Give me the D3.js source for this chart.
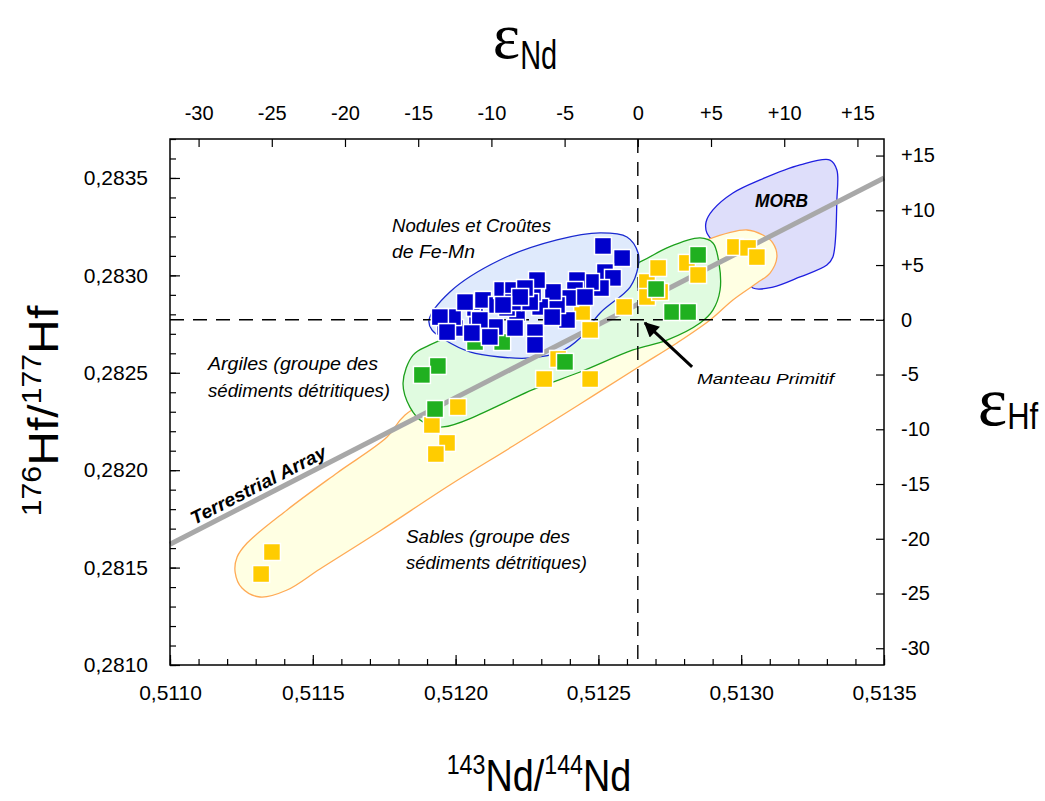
<!DOCTYPE html>
<html><head><meta charset="utf-8">
<script src="https://cdn.jsdelivr.net/npm/d3@7"></script>
<style>
body{margin:0;background:#fff;}
svg{display:block;font-family:"Liberation Sans",Arial,sans-serif;}
</style>
</head><body>
<svg id="c" width="1045" height="801"></svg>
<script>
// ---------- data ----------
const xDomain = [0.5110, 0.5135];
const yDomain = [0.2810, 0.2837];
const xTicks = [0.5110, 0.5115, 0.5120, 0.5125, 0.5130, 0.5135];
const yTicks = [0.2810, 0.2815, 0.2820, 0.2825, 0.2830, 0.2835];
const epsNdTicks = [-30, -25, -20, -15, -10, -5, 0, 5, 10, 15];
const epsHfTicks = [-30, -25, -20, -15, -10, -5, 0, 5, 10, 15];
const ND_CHUR = 0.512638;
const HF_CHUR = 0.282772;
const HF_PER_EPS_AXIS = 0.0000562; // as drawn on the original right axis

const terrestrialArray = [[0.5110, 0.28162], [0.5135, 0.28350]];

const sablesPts = [ // yellow
  [0.511319,0.281467],[0.511357,0.281580],[0.512008,0.282324],[0.511917,0.282232],
  [0.511970,0.282140],[0.511931,0.282083],[0.512310,0.282468],[0.512471,0.282468],
  [0.512359,0.282571],[0.512443,0.282812],[0.512471,0.282720],[0.512590,0.282838],
  [0.512670,0.282966],[0.512670,0.282889],[0.512716,0.282915],[0.512709,0.283038],
  [0.512810,0.283064],[0.512849,0.283002],[0.512978,0.283146],[0.513024,0.283141],
  [0.513055,0.283094]
];
const argilesPts = [ // green
  [0.512702,0.282930],[0.512849,0.283105],[0.512758,0.282812],[0.512814,0.282812],
  [0.511938,0.282535],[0.511882,0.282489],[0.511928,0.282314],[0.512383,0.282556],
  [0.512068,0.282658],[0.512163,0.282658]
];
const nodulesPts = [ // blue
  [0.512516,0.283151],[0.512583,0.283089],[0.512523,0.283017],[0.512551,0.282987],
  [0.512509,0.282935],[0.512474,0.282966],[0.512425,0.282976],[0.512418,0.282925],
  [0.512401,0.282884],[0.512390,0.282771],[0.512355,0.282848],[0.512341,0.282915],
  [0.512296,0.282838],[0.512271,0.282910],[0.512285,0.282976],[0.512236,0.282899],
  [0.512215,0.282807],[0.512208,0.282730],[0.512278,0.282709],[0.512278,0.282643],
  [0.512138,0.282735],[0.512075,0.282745],[0.511998,0.282730],[0.511963,0.282735],
  [0.511991,0.282786],[0.512068,0.282833],[0.512057,0.282863],[0.512096,0.282874],
  [0.512145,0.282848],[0.512163,0.282925],[0.512201,0.282925],[0.512180,0.282833],
  [0.512201,0.282863],[0.512261,0.282863],[0.512338,0.282786],[0.512085,0.282771],
  [0.511945,0.282786],[0.512033,0.282863],[0.512120,0.282684],[0.512057,0.282704],
  [0.512243,0.282935],[0.512453,0.282889],[0.511970,0.282709],[0.512226,0.282889],
  [0.512166,0.282848]
];

const morbField = [
  [0.512880,0.283218],[0.512877,0.283274],[0.512901,0.283336],[0.512971,0.283423],
  [0.513066,0.283490],[0.513206,0.283567],[0.513311,0.283592],[0.513335,0.283541],
  [0.513335,0.283387],[0.513321,0.283094],[0.513300,0.283053],[0.513206,0.282992],
  [0.513111,0.282940],[0.513041,0.282935],[0.512996,0.283028]
];
const sablesField = [
  [0.511235,0.281554],[0.511270,0.281626],[0.511410,0.281796],[0.511585,0.281986],
  [0.511760,0.282170],[0.511823,0.282283],[0.512155,0.282571],[0.512506,0.282874],
  [0.512751,0.283089],[0.512880,0.283182],[0.513020,0.283233],[0.513076,0.283207],
  [0.513111,0.283166],[0.513125,0.283094],[0.513101,0.283012],[0.513055,0.282961],
  [0.512971,0.282874],[0.512891,0.282771],[0.512775,0.282653],[0.512646,0.282535],
  [0.512436,0.282340],[0.512201,0.282124],[0.511980,0.281924],[0.511735,0.281688],
  [0.511525,0.281493],[0.511410,0.281385],[0.511315,0.281349],[0.511252,0.281395],
  [0.511228,0.281477]
];
const argilesField = [
  [0.511851,0.282591],[0.511910,0.282643],[0.512278,0.282858],[0.512646,0.283069],
  [0.512740,0.283141],[0.512856,0.283192],[0.512901,0.283166],[0.512922,0.283064],
  [0.512926,0.282925],[0.512901,0.282822],[0.512856,0.282756],[0.512740,0.282668],
  [0.512621,0.282617],[0.512436,0.282504],[0.512285,0.282422],[0.511956,0.282222],
  [0.511886,0.282247],[0.511840,0.282324],[0.511816,0.282448]
];
const nodulesField = [
  [0.511907,0.282771],[0.511980,0.282915],[0.512155,0.283079],[0.512355,0.283182],
  [0.512506,0.283218],[0.512600,0.283197],[0.512639,0.283115],[0.512639,0.283043],
  [0.512611,0.282940],[0.512506,0.282807],[0.512436,0.282679],[0.512366,0.282607],
  [0.512261,0.282576],[0.512155,0.282581],[0.512050,0.282607],[0.511963,0.282668],
  [0.511917,0.282720]
];
const primitiveArrow = [[0.512828,0.282530],[0.512663,0.282756]];

// ---------- chart ----------
const svg = d3.select('#c');
const x = d3.scaleLinear().domain(xDomain).range([170, 884]);
const y = d3.scaleLinear().domain(yDomain).range([665, 139]);
const xEps = d3.scaleLinear().domain(xDomain.map(v => (v / ND_CHUR - 1) * 1e4)).range(x.range());
const yEps = d3.scaleLinear().domain(yDomain.map(v => (v - HF_CHUR) / HF_PER_EPS_AXIS)).range(y.range());
const [x0, x1] = x.range(), [y0, y1] = y.range();

const area = d3.line().x(d => x(d[0])).y(d => y(d[1])).curve(d3.curveCatmullRomClosed.alpha(0.5));

function field(data, fill, stroke) {
  svg.append('path').attr('d', area(data)).attr('fill', fill).attr('stroke', stroke).attr('stroke-width', 1.3);
}
field(morbField, '#dedefa', '#1f1fe0');
field(sablesField, '#ffffe3', '#ffaa55');
field(argilesField, '#e0fbe0', '#1ca01c');
field(nodulesField, '#dfeafc', '#1a2ad0');

// terrestrial array
svg.append('line')
  .attr('x1', x(terrestrialArray[0][0])).attr('y1', y(terrestrialArray[0][1]))
  .attr('x2', x(terrestrialArray[1][0])).attr('y2', y(terrestrialArray[1][1]))
  .attr('stroke', '#a8a8a8').attr('stroke-width', 5);

// CHUR dashed lines
svg.append('line').attr('x1', x(ND_CHUR)).attr('x2', x(ND_CHUR)).attr('y1', y1).attr('y2', y0)
  .attr('stroke', '#000').attr('stroke-width', 1.4).attr('stroke-dasharray', '14,9');
svg.append('line').attr('x1', x0).attr('x2', x1).attr('y1', y(HF_CHUR)).attr('y2', y(HF_CHUR))
  .attr('stroke', '#000').attr('stroke-width', 1.4).attr('stroke-dasharray', '14,9');

// points
const S = 17;
function pts(data, color) {
  svg.append('g').selectAll('rect').data(data).join('rect')
    .attr('x', d => x(d[0]) - S / 2).attr('y', d => y(d[1]) - S / 2)
    .attr('width', S).attr('height', S)
    .attr('fill', color).attr('stroke', '#fff').attr('stroke-width', 1.5);
}
pts(sablesPts, '#ffcc00');
pts(argilesPts, '#20b020');
pts(nodulesPts, '#0000cc');

// arrow
svg.append('defs').append('marker').attr('id', 'ah').attr('viewBox', '0 0 10 10')
  .attr('refX', 9).attr('refY', 5).attr('markerWidth', 5.5).attr('markerHeight', 5)
  .attr('orient', 'auto').attr('markerUnits', 'strokeWidth')
  .append('path').attr('d', 'M0,0 L10,5 L0,10 z').attr('fill', '#000');
svg.append('line')
  .attr('x1', x(primitiveArrow[0][0])).attr('y1', y(primitiveArrow[0][1]))
  .attr('x2', x(primitiveArrow[1][0])).attr('y2', y(primitiveArrow[1][1]))
  .attr('stroke', '#000').attr('stroke-width', 3).attr('marker-end', 'url(#ah)');

// frame
svg.append('rect').attr('x', x0).attr('y', y1).attr('width', x1 - x0).attr('height', y0 - y1)
  .attr('fill', 'none').attr('stroke', '#000').attr('stroke-width', 1.5);

// axes
const minorX = d3.range(0, 26).map(i => xDomain[0] + i * 0.0001);
const minorY = d3.range(0, 28).map(i => yDomain[0] + i * 0.0001);
function styleAxis(g, fs) {
  g.select('.domain').remove();
  g.selectAll('line').attr('stroke', '#000').attr('stroke-width', 1.2);
  g.selectAll('text').attr('font-size', fs).attr('fill', '#000')
    .attr('font-family', '"Liberation Sans", Arial, sans-serif');
}
const comma = d => d.toFixed(4).replace('.', ',');
const signed = d => d > 0 ? '+' + d : String(d);

svg.append('g').attr('transform', `translate(0,${y0})`)
  .call(d3.axisBottom(x).tickValues(minorX).tickSize(-6).tickSizeOuter(0).tickFormat(''))
  .call(g => styleAxis(g, 18));
svg.append('g').attr('transform', `translate(0,${y0})`)
  .call(d3.axisBottom(x).tickValues(xTicks).tickSize(-10).tickSizeOuter(0).tickPadding(20).tickFormat(comma))
  .call(g => styleAxis(g, 21));
svg.append('g').attr('transform', `translate(${x0},0)`)
  .call(d3.axisLeft(y).tickValues(minorY).tickSize(-6).tickSizeOuter(0).tickFormat(''))
  .call(g => styleAxis(g, 18));
svg.append('g').attr('transform', `translate(${x0},0)`)
  .call(d3.axisLeft(y).tickValues(yTicks).tickSize(-10).tickSizeOuter(0).tickPadding(22).tickFormat(comma))
  .call(g => styleAxis(g, 21));
svg.append('g').attr('transform', `translate(0,${y1})`)
  .call(d3.axisTop(xEps).tickValues(epsNdTicks).tickSize(-8).tickSizeOuter(0).tickPadding(19).tickFormat(signed))
  .call(g => styleAxis(g, 20));
svg.append('g').attr('transform', `translate(${x1},0)`)
  .call(d3.axisRight(yEps).tickValues(epsHfTicks).tickSize(-8).tickSizeOuter(0).tickPadding(17).tickFormat(signed))
  .call(g => styleAxis(g, 20));

// titles
const topTitle = svg.append('text').attr('x', 525).attr('y', 58).attr('text-anchor', 'middle');
topTitle.append('tspan').attr('font-family', '"Liberation Serif", "DejaVu Serif", serif').attr('font-size', 65).text('ε');
topTitle.append('tspan').attr('font-size', 40).attr('dy', 11).attr('textLength', 37).attr('lengthAdjust', 'spacingAndGlyphs').text('Nd');

const rightTitle = svg.append('text').attr('x', 1008).attr('y', 425).attr('text-anchor', 'middle');
rightTitle.append('tspan').attr('font-family', '"Liberation Serif", "DejaVu Serif", serif').attr('font-size', 70).text('ε');
rightTitle.append('tspan').attr('font-size', 36).attr('dy', 4).attr('textLength', 31).attr('lengthAdjust', 'spacingAndGlyphs').text('Hf');

const bottomTitle = svg.append('text').attr('transform', 'translate(539,791) scale(0.86,1)').attr('text-anchor', 'middle');
bottomTitle.append('tspan').attr('font-size', 27).attr('dy', -17).text('143');
bottomTitle.append('tspan').attr('font-size', 44).attr('dy', 17).text('Nd/');
bottomTitle.append('tspan').attr('font-size', 27).attr('dy', -17).text('144');
bottomTitle.append('tspan').attr('font-size', 44).attr('dy', 17).text('Nd');

const leftTitle = svg.append('text').attr('transform', 'translate(58,411) rotate(-90) scale(1.12,1)').attr('text-anchor', 'middle');
leftTitle.append('tspan').attr('font-size', 27).attr('dy', -17).text('176');
leftTitle.append('tspan').attr('font-size', 43).attr('dy', 17).text('Hf/');
leftTitle.append('tspan').attr('font-size', 27).attr('dy', -17).text('177');
leftTitle.append('tspan').attr('font-size', 43).attr('dy', 17).text('Hf');

// annotations
function note(px, py, lines, opts = {}) {
  const t = svg.append('text').attr('x', px).attr('y', py)
    .attr('font-size', opts.fs || 18.5).attr('font-style', 'italic')
    .attr('font-weight', opts.bold ? 'bold' : 'normal');
  lines.forEach((l, i) => {
    const s = t.append('tspan').attr('x', px).attr('dy', i ? (opts.lh || 26) : 0).text(l[0]);
    if (l[1]) s.attr('textLength', l[1]).attr('lengthAdjust', 'spacingAndGlyphs');
  });
}
note(392, 232, [['Nodules et Croûtes', 159], ['de Fe-Mn', 83]]);
note(208, 370, [['Argiles (groupe des', 170], ['sédiments détritiques)', 182]], {lh: 27});
note(406, 543, [['Sables (groupe des', 164], ['sédiments détritiques)', 181]], {lh: 26});
note(697, 384, [['Manteau Primitif', 137]], {fs: 15});
note(755, 207, [['MORB', 53]], {bold: true, fs: 18});

// terrestrial array label
const ax = x(terrestrialArray[0][0]), ay = y(terrestrialArray[0][1]);
const bx = x(terrestrialArray[1][0]), by = y(terrestrialArray[1][1]);
const ang = Math.atan2(by - ay, bx - ax) * 180 / Math.PI;
const lx = 264, ly = ay + (lx - ax) * (by - ay) / (bx - ax);
svg.append('text').attr('transform', `translate(${lx},${ly}) rotate(${ang})`)
  .attr('y', -6).attr('text-anchor', 'middle')
  .attr('font-size', 18.5).attr('font-style', 'italic').attr('font-weight', 'bold')
  .attr('textLength', 150).attr('lengthAdjust', 'spacingAndGlyphs')
  .text('Terrestrial Array');
</script>
</body></html>
